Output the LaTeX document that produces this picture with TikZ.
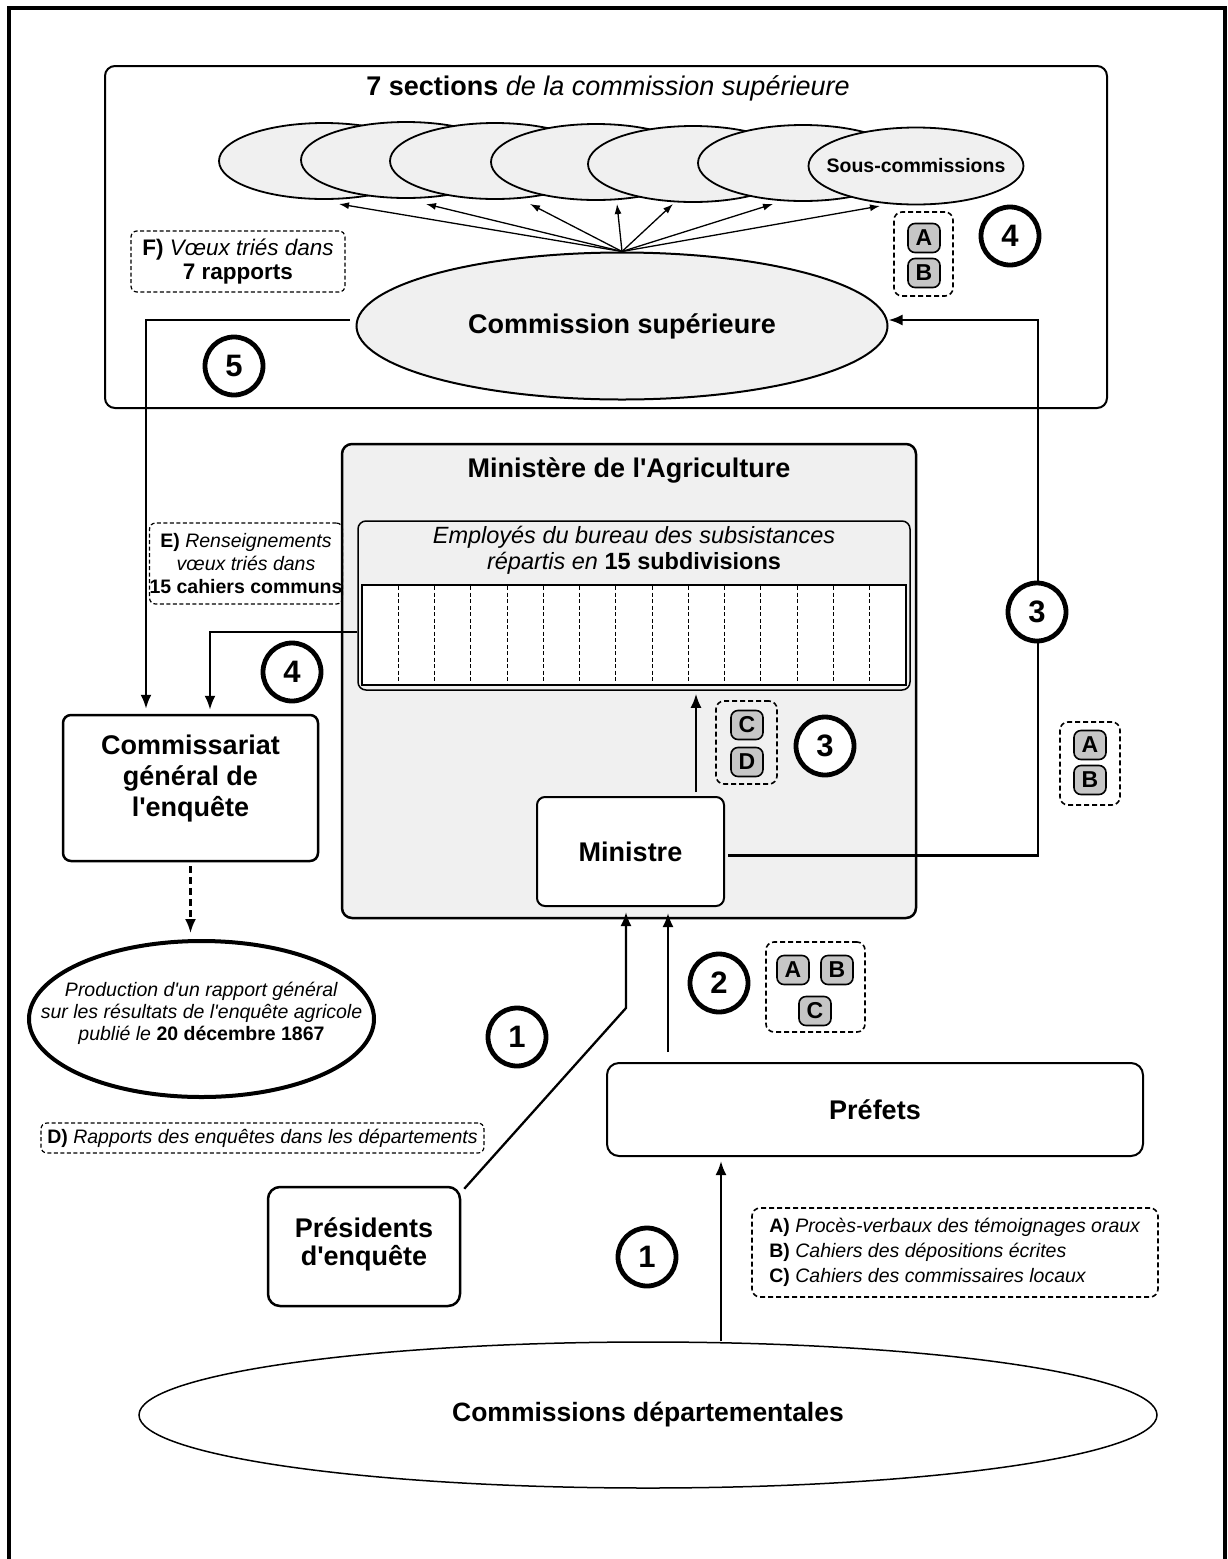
\documentclass[tikz,border=0pt]{standalone}
\usepackage{fontspec}
\setmainfont{Liberation Sans}[Ligatures=TeXOff]
\usetikzlibrary{arrows.meta,shapes.geometric}
\tikzset{
 box/.style={draw, line width=2, rounded corners=8, fill=white, inner sep=0},
 dbox/.style={draw, line width=1.2, dash pattern=on 4pt off 2.5pt, rounded corners=6, inner sep=0},
 kdbox/.style={draw, line width=1.6, dash pattern=on 5pt off 3pt, rounded corners=8, inner sep=0},
 keyb/.style={draw, line width=1.6, rounded corners=7, fill=gray!45, minimum width=32, minimum height=29, inner sep=0, font=\fontsize{23}{23}\selectfont\bfseries},
 num/.style={circle, draw, line width=4.8, fill=white, minimum size=58, inner sep=0, font=\fontsize{31}{31}\selectfont\bfseries},
 conn/.style={line width=2.3, -{Latex[length=14,width=11]}},
 sarr/.style={line width=1.3, -{Latex[length=10,width=7]}},
 ell/.style={ellipse, draw, inner sep=0},
 big/.style={font=\fontsize{27}{32}\selectfont\bfseries},
}
\begin{document}
\begin{tikzpicture}[x=1pt,y=-1pt]
\useasboundingbox (0,0) rectangle (1227,1559);
\fill[white] (0,0) rectangle (1227,1559);
% outer frame
\draw[line width=3.5] (9,1570) -- (9,8) -- (1225,8) -- (1225,1570);

% ---------- top box ----------
\node[box, rounded corners=10, minimum width=1002, minimum height=342] (topbox) at (606,237) {};
\node[font=\fontsize{27}{32}\selectfont] (toptitle) at (608,88) {\textbf{7 sections} \textit{de la commission supérieure}};

\foreach \i/\cx/\cy in {1/324/161, 2/406/160, 3/495/161, 4/596/162, 5/693/164, 6/803/163}
  \node[ell, fill=gray!12, line width=1.8, minimum width=210, minimum height=76] (e\i) at (\cx,\cy) {};
\node[ell, fill=gray!12, line width=1.8, minimum width=215, minimum height=77] (e7) at (916,166) {};
\node[font=\fontsize{19.5}{22}\selectfont\bfseries] (e7t) at (e7) {Sous-commissions};

\node[ell, fill=gray!12, line width=2, minimum width=531, minimum height=147, big] (csup) at (622,326) {Commission supérieure};

\coordinate (t1) at (339,204);
\coordinate (t2) at (426,204);
\coordinate (t3) at (530,204);
\coordinate (t4) at (617,204);
\coordinate (t5) at (673,204);
\coordinate (t6) at (773,204);
\coordinate (t7) at (880,206);
\foreach \i in {1,...,7} \draw[sarr] (csup.north) -- (t\i);

\node[dbox, minimum width=214, minimum height=61, align=center, font=\fontsize{22.5}{24}\selectfont] (fbox) at (238,261.5) {\textbf{F)} \textit{Vœux triés dans}\\\textbf{7 rapports}};

\node[kdbox, minimum width=59, minimum height=84] (ab1) at (923.5,254) {};
\node[keyb] (ab1a) at (924,238) {A};
\node[keyb] (ab1b) at (924,273) {B};

% ---------- Ministere ----------
\node[box, fill=gray!12, line width=2.5, rounded corners=10, minimum width=574, minimum height=474] (mini) at (629,681) {};
\node[big] (minit) at (629,470) {Ministère de l'Agriculture};

\node[draw, line width=1.5, rounded corners=8, minimum width=552, minimum height=169, inner sep=0] (emp) at (634,605.5) {};
\node[font=\fontsize{23.5}{26}\selectfont, align=center] (empt) at (634,550) {\textit{Employés du bureau des subsistances}\\\textit{répartis en} \textbf{15 subdivisions}};
\node[draw, fill=white, line width=1.2, minimum width=544, minimum height=100, inner sep=0] (subs) at (634,635) {};
\foreach \k in {1,...,14}
  \draw[line width=0.9, dash pattern=on 4pt off 2.5pt] ({362+\k*36.267},586) -- ({362+\k*36.267},684);

\node[box, minimum width=187, minimum height=109, big] (min) at (630.5,851.5) {Ministre};

\node[kdbox, minimum width=61, minimum height=83] (cdk) at (746.5,742.5) {};
\node[keyb] (kc) at (747,725) {C};
\node[keyb] (kd) at (747,762) {D};

\node[kdbox, minimum width=60, minimum height=83] (abr) at (1090,763.5) {};
\node[keyb] (abra) at (1090,745) {A};
\node[keyb] (abrb) at (1090,780) {B};

% ---------- left column ----------
\node[dbox, minimum width=182, minimum height=81, align=center, font=\fontsize{19.5}{23}\selectfont] (ebox) at (246,563.5) {\textbf{E)} \textit{Renseignements}\\\textit{vœux triés dans}\\\textbf{15 cahiers communs}};

\node[box, line width=2.5, minimum width=255, minimum height=146] (cg) at (190.5,788) {};
\node[align=center, font=\fontsize{27}{31}\selectfont\bfseries] (cgt) at (190.5,779) {Commissariat\\général de\\l'enquête};

\node[ell, line width=4, fill=white, minimum width=345, minimum height=156] (prod) at (201.5,1019) {};
\node[align=center, font=\fontsize{19.5}{22}\selectfont] (prodt) at (201.5,1013) {\textit{Production d'un rapport général}\\\textit{sur les résultats de l'enquête agricole}\\\textit{publié le} \textbf{20 décembre 1867}};

\node[dbox, minimum width=443, minimum height=30, font=\fontsize{19.5}{22}\selectfont] (dnote) at (262.5,1138) {\textbf{D)} \textit{Rapports des enquêtes dans les départements}};

% ---------- bottom ----------
\node[kdbox, minimum width=99, minimum height=90] (abc) at (815.5,987) {};
\node[keyb] (ka2) at (793,970) {A};
\node[keyb] (kb2) at (837,970) {B};
\node[keyb] (kc2) at (815,1011) {C};

\node[box, rounded corners=12, minimum width=536, minimum height=93, big] (pref) at (875,1109.5) {Préfets};

\node[box, line width=2.5, rounded corners=12, minimum width=192, minimum height=119] (pres) at (364,1246.5) {};
\node[align=center, font=\fontsize{27}{28}\selectfont\bfseries] (prest) at (364,1244) {Présidents\\d'enquête};

\node[kdbox, minimum width=406, minimum height=89, align=left, font=\fontsize{19.5}{25}\selectfont] (legend) at (955,1252.5) {\textbf{A)} \textit{Procès-verbaux des témoignages oraux}\\\textbf{B)} \textit{Cahiers des dépositions écrites}\\\textbf{C)} \textit{Cahiers des commissaires locaux}};

\node[ell, line width=1.5, minimum width=1018, minimum height=146, font=\fontsize{26.5}{30}\selectfont\bfseries] (cd) at (648,1415) {Commissions départementales};

% ---------- connectors ----------
\coordinate (lc) at (146,320);
\draw[conn, shorten <=6, shorten >=5] ([yshift=6]csup.west) -- (lc) -- (lc |- cg.north);

\coordinate (ec) at (210,632);
\draw[conn, shorten >=4] ([yshift=3]subs.west -| emp.west) -- (ec) -- (ec |- cg.north);

\coordinate (rc) at (1038,320);
\draw[conn, shorten <=3] ([yshift=-4]min.east) -| (rc) -- ([yshift=6]csup.east);

\draw[conn, shorten <=4, shorten >=3] ([xshift=65.5]min.north) -- ([xshift=65.5]min.north |- emp.south);

\coordinate (pb) at (626,1008);
\draw[conn, shorten >=5] ([shift={(3,3)}]pres.north east) -- (pb) -- (pb |- min.south);

\draw[conn, shorten <=10, shorten >=6] ([xshift=-207]pref.north) -- ([xshift=-207]pref.north |- min.south);

\draw[conn, shorten >=4] ([xshift=73]cd.north) -- ([xshift=73]cd.north |- pref.south);

\draw[conn, dash pattern=on 7pt off 4pt, shorten <=4, shorten >=6] (cg.south) -- (cg.south |- prod.north);

% ---------- step numbers ----------
\node[num] (c4a) at (1010,236) {4};
\node[num] (c5) at (234,366) {5};
\node[num] (c3r) at (1037,612) {3};
\node[num] (c4b) at (292,672) {4};
\node[num] (c3m) at (825,746) {3};
\node[num] (c2) at (719,983) {2};
\node[num] (c1a) at (517,1037) {1};
\node[num] (c1b) at (647,1257) {1};
\end{tikzpicture}
\end{document}
